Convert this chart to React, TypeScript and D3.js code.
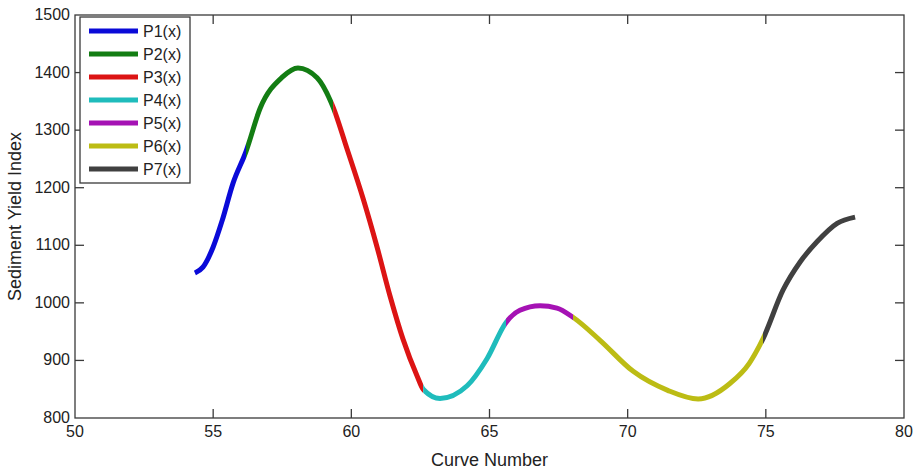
import React, { useEffect, useRef } from 'react';
import * as d3 from 'd3';

// segment names and colours (MATLAB style)
const seriesNames = ['P1(x)', 'P2(x)', 'P3(x)', 'P4(x)', 'P5(x)', 'P6(x)', 'P7(x)'];
const seriesColors = ['#0a0ad8', '#137d13', '#dc1414', '#1fbcbc', '#a512b4', '#bcbc14', '#404040'];

// curve number values per segment
const p1X = [54.34, 54.63, 55.0, 55.32, 55.72, 56.19];
const p1Y = [1052, 1062, 1097, 1142, 1208, 1263];
const p2X = [56.19, 56.7, 57.5, 58.07, 58.76, 59.34];
const p2Y = [1263, 1338, 1392, 1408, 1391, 1340];
const p3X = [59.34, 59.84, 60.42, 60.93, 61.4, 61.87, 62.38, 62.6];
const p3Y = [1340, 1268, 1182, 1097, 1012, 937, 873, 850];
const p4X = [62.6, 63.21, 64.19, 64.91, 65.6];
const p4Y = [850, 834, 856, 903, 966];
const p5X = [65.6, 66.1, 66.83, 67.44, 68.02];
const p5Y = [966, 987, 995, 991, 975];
const p6X = [68.02, 69.0, 70.2, 71.45, 72.55, 73.7, 74.4, 74.9];
const p6Y = [975, 935, 881, 848, 833, 860, 895, 938];
const p7X = [74.9, 75.62, 76.24, 76.85, 77.58, 78.23];
const p7Y = [938, 1022, 1071, 1106, 1138, 1149];

const segmentsX = [p1X, p2X, p3X, p4X, p5X, p6X, p7X];
const segmentsY = [p1Y, p2Y, p3Y, p4Y, p5Y, p6Y, p7Y];

const xTicks = [50, 55, 60, 65, 70, 75, 80];
const yTicks = [800, 900, 1000, 1100, 1200, 1300, 1400, 1500];

const W = 916;
const H = 472;
const FONT = '"Liberation Sans", Arial, sans-serif';

function Chart() {
  const ref = useRef<SVGSVGElement>(null);

  useEffect(() => {
    const svg = d3.select(ref.current);
    svg.selectAll('*').remove();

    const left = 75, right = 904, top = 15, bottom = 418;
    const x = d3.scaleLinear().domain([50, 80]).range([left, right]);
    const y = d3.scaleLinear().domain([800, 1500]).range([bottom, top]);
    const axisColor = '#3a3a3a';
    const tickLen = 9;

    svg.append('rect')
      .attr('x', left).attr('y', top)
      .attr('width', right - left).attr('height', bottom - top)
      .attr('fill', 'white').attr('stroke', axisColor).attr('stroke-width', 1.3);

    // ticks on all sides, pointing inward
    const g = svg.append('g').attr('stroke', axisColor).attr('stroke-width', 1.3);
    xTicks.slice(1, -1).forEach((t) => {
      g.append('line').attr('x1', x(t)).attr('x2', x(t)).attr('y1', bottom).attr('y2', bottom - tickLen);
      g.append('line').attr('x1', x(t)).attr('x2', x(t)).attr('y1', top).attr('y2', top + tickLen);
    });
    yTicks.slice(1, -1).forEach((t) => {
      g.append('line').attr('y1', y(t)).attr('y2', y(t)).attr('x1', left).attr('x2', left + tickLen);
      g.append('line').attr('y1', y(t)).attr('y2', y(t)).attr('x1', right).attr('x2', right - tickLen);
    });

    svg.append('g').selectAll('text').data(xTicks).enter().append('text')
      .attr('x', (d) => x(d)).attr('y', bottom + 19)
      .attr('text-anchor', 'middle')
      .attr('font-family', FONT).attr('font-size', 16).attr('fill', '#222')
      .text((d) => d);

    svg.append('g').selectAll('text').data(yTicks).enter().append('text')
      .attr('x', left - 5).attr('y', (d) => y(d) + 5)
      .attr('text-anchor', 'end')
      .attr('font-family', FONT).attr('font-size', 16).attr('fill', '#222')
      .text((d) => d);

    svg.append('text')
      .attr('x', (left + right) / 2).attr('y', 466)
      .attr('text-anchor', 'middle')
      .attr('font-family', FONT).attr('font-size', 18).attr('fill', '#222')
      .text('Curve Number');

    svg.append('text')
      .attr('transform', `translate(21,${(top + bottom) / 2}) rotate(-90)`)
      .attr('text-anchor', 'middle')
      .attr('font-family', FONT).attr('font-size', 18).attr('fill', '#222')
      .text('Sediment Yield Index');

    // one smooth curve through all points, coloured by segment via clip paths
    const allPts: [number, number][] = [];
    segmentsX.forEach((xs, i) => {
      xs.forEach((v, j) => {
        if (i > 0 && j === 0) return; // shared boundary point
        allPts.push([v, segmentsY[i][j]]);
      });
    });

    const line = d3.line<[number, number]>()
      .x((d) => x(d[0]))
      .y((d) => y(d[1]))
      .curve(d3.curveMonotoneX);
    const pathD = line(allPts);

    const defs = svg.append('defs');
    segmentsX.forEach((xs, i) => {
      const x0 = i === 0 ? x(xs[0]) - 6 : x(xs[0]);
      const x1 = i === segmentsX.length - 1 ? x(xs[xs.length - 1]) + 6 : x(xs[xs.length - 1]);
      defs.append('clipPath').attr('id', `seg-${i}`)
        .append('rect')
        .attr('x', x0).attr('y', 0)
        .attr('width', x1 - x0).attr('height', H);
      svg.append('path')
        .attr('d', pathD)
        .attr('clip-path', `url(#seg-${i})`)
        .attr('fill', 'none')
        .attr('stroke', seriesColors[i])
        .attr('stroke-width', 5)
        .attr('stroke-linejoin', 'round');
    });

    // legend
    const lg = svg.append('g');
    lg.append('rect')
      .attr('x', 80).attr('y', 17).attr('width', 110).attr('height', 166)
      .attr('fill', 'white').attr('stroke', axisColor).attr('stroke-width', 1.3);
    seriesNames.forEach((name, i) => {
      const yy = 31 + i * 23;
      lg.append('line')
        .attr('x1', 89).attr('x2', 138).attr('y1', yy).attr('y2', yy)
        .attr('stroke', seriesColors[i]).attr('stroke-width', 5);
      lg.append('text')
        .attr('x', 143).attr('y', yy + 6)
        .attr('font-family', FONT).attr('font-size', 16).attr('fill', '#222')
        .text(name);
    });
  }, []);

  return <svg ref={ref} width={W} height={H} style={{ position: 'absolute', left: 0, top: 0, background: 'white' }} />;
}

export default function App() {
  return <Chart />;
}
